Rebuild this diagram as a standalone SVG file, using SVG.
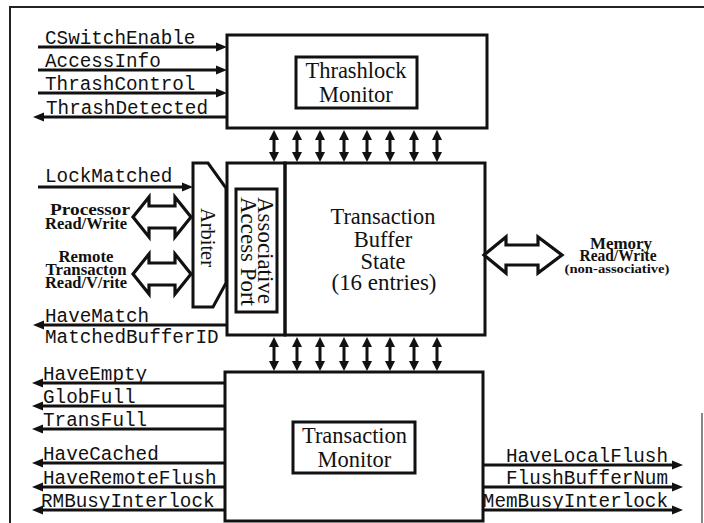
<svg xmlns="http://www.w3.org/2000/svg" width="704" height="523" viewBox="0 0 704 523">
<style>
.box{fill:none;stroke:#111;stroke-width:3}
.sig{stroke:#111;stroke-width:3;fill:none}
.r{marker-end:url(#ah)}
.l{marker-end:url(#ah)}
.bi{stroke:#111;stroke-width:3;fill:none;marker-start:url(#ah2);marker-end:url(#ah2)}
.hol{fill:#fff;stroke:#111;stroke-width:3.2;stroke-linejoin:miter}
.mono{font-family:"Liberation Mono","Courier New",monospace;font-size:19.3px;fill:#111}
.big{font-family:"Liberation Serif","Times New Roman",serif;font-size:22.5px;fill:#111;text-anchor:middle}
.lab{font-family:"Liberation Serif","Times New Roman",serif;font-weight:bold;font-size:16px;fill:#111;text-anchor:middle}
.rot{font-family:"Liberation Serif","Times New Roman",serif;font-size:23px;fill:#111}
</style>
<defs>
<marker id="ah" markerUnits="userSpaceOnUse" markerWidth="12" markerHeight="10" refX="6" refY="5" orient="auto">
<path d="M0,0.5 L11,5 L0,9.5 z" fill="#111"/>
</marker>
<marker id="ah2" markerUnits="userSpaceOnUse" markerWidth="11" markerHeight="11" refX="5" refY="5.5" orient="auto-start-reverse">
<path d="M0,0.5 L10,5.5 L0,10.5 z" fill="#111"/>
</marker>
<pattern id="dots" width="53" height="41" patternUnits="userSpaceOnUse">
<g stroke="#444" stroke-width="1.3" fill="none">
<path d="M5,6 l1,-2"/><path d="M22,14 l0,2"/><path d="M40,5 l1,1"/><path d="M12,28 l1,-1"/><path d="M33,31 l0,2"/><path d="M47,22 l-1,2"/><path d="M28,39 l1,-1"/><path d="M3,19 l1,1"/>
</g>
</pattern>
</defs>
<rect width="704" height="523" fill="#fff"/>
<g id="frame" fill="none" stroke="#222" stroke-width="2">
<path d="M10,523 V7 H704"/>
<path d="M702,413 V523" stroke="#888"/>
</g>

<g id="thrashlock">
<rect x="227" y="35" width="260" height="93" fill="url(#dots)" class="box"/>
<rect x="296" y="57" width="121" height="51" fill="#fff" class="box"/>
<text class="big" x="356" y="78">Thrashlock</text>
<text class="big" x="356" y="102">Monitor</text>
</g>

<g id="tbs">
<rect x="285" y="163" width="200" height="172" fill="#fff" class="box"/>
<text class="big" x="383" y="224" textLength="105" lengthAdjust="spacingAndGlyphs">Transaction</text>
<text class="big" x="383" y="247">Buffer</text>
<text class="big" x="383" y="269">State</text>
<text class="big" x="384" y="290" textLength="105" lengthAdjust="spacingAndGlyphs">(16 entries)</text>
</g>

<g id="aap">
<rect x="227" y="163" width="58" height="172" fill="#fff" class="box"/>
<rect x="236" y="189" width="41" height="123" fill="#fff" class="box"/>
<text class="rot" transform="translate(258,197) rotate(90)" textLength="107" lengthAdjust="spacingAndGlyphs">Associative</text>
<text class="rot" transform="translate(241,197) rotate(90)" textLength="109" lengthAdjust="spacingAndGlyphs">Access Port</text>
</g>

<g id="arbiter">
<path d="M193,163 H208 L226,188 V283 L213,307 H193 Z" fill="#fff" class="box"/>
<text class="rot" style="font-size:21px" transform="translate(201,208) rotate(90)" textLength="59" lengthAdjust="spacingAndGlyphs">Arbiter</text>
</g>

<g id="tm">
<rect x="225" y="372" width="258" height="149" fill="url(#dots)" class="box"/>
<rect x="293" y="422" width="122" height="51" fill="#fff" class="box"/>
<text class="big" x="354.5" y="443" textLength="105" lengthAdjust="spacingAndGlyphs">Transaction</text>
<text class="big" x="354.5" y="467">Monitor</text>
</g>

<g id="connectors">
<path class="sig r" d="M38,47 H222"/>
<path class="sig r" d="M38,70 H222"/>
<path class="sig r" d="M38,93 H222"/>
<path class="sig l" d="M227,117 H38"/>
<path class="sig r" d="M38,187 H188"/>
<path class="sig l" d="M227,325 H38"/>
<path class="sig l" d="M225,383 H37"/>
<path class="sig l" d="M225,406 H37"/>
<path class="sig l" d="M225,429 H37"/>
<path class="sig l" d="M225,463 H37"/>
<path class="sig l" d="M225,487 H37"/>
<path class="sig l" d="M225,510 H37"/>
<path class="sig r" d="M483,465 H678"/>
<path class="sig r" d="M483,487 H678"/>
<path class="sig r" d="M483,510 H678"/>
<path class="bi" d="M274,135 V157"/>
<path class="bi" d="M297,135 V157"/>
<path class="bi" d="M320,135 V157"/>
<path class="bi" d="M344,135 V157"/>
<path class="bi" d="M367,135 V157"/>
<path class="bi" d="M390,135 V157"/>
<path class="bi" d="M414,135 V157"/>
<path class="bi" d="M437,135 V157"/>
<path class="bi" d="M274,342 V366"/>
<path class="bi" d="M297,342 V366"/>
<path class="bi" d="M320,342 V366"/>
<path class="bi" d="M344,342 V366"/>
<path class="bi" d="M367,342 V366"/>
<path class="bi" d="M390,342 V366"/>
<path class="bi" d="M414,342 V366"/>
<path class="bi" d="M437,342 V366"/>
<path class="hol" d="M133,217 L149,197 V206 H175 V197 L191,217 L175,237 V228 H149 V237 Z"/>
<path class="hol" d="M133,274 L149,254 V263 H175 V254 L191,274 L175,294 V285 H149 V294 Z"/>
<path class="hol" d="M484,255 L506,237 V245 H538 V237 L562,255 L538,273 V265 H506 V273 Z"/>
</g>

<g id="labels">
<text class="mono" x="45" y="44">CSwitchEnable</text>
<text class="mono" x="45" y="67">AccessInfo</text>
<text class="mono" x="45" y="90">ThrashControl</text>
<text class="mono" x="46" y="114">ThrashDetected</text>
<text class="mono" x="45" y="182">LockMatched</text>
<text class="mono" x="45" y="322">HaveMatch</text>
<text class="mono" x="45" y="343">MatchedBufferID</text>
<text class="mono" x="43" y="380">HaveEmpty</text>
<text class="mono" x="43" y="403">GlobFull</text>
<text class="mono" x="43" y="426">TransFull</text>
<text class="mono" x="43" y="460">HaveCached</text>
<text class="mono" x="43" y="484">HaveRemoteFlush</text>
<text class="mono" x="41" y="507">RMBusyInterlock</text>
<text class="mono" x="668" y="462" text-anchor="end">HaveLocalFlush</text>
<text class="mono" x="668" y="484" text-anchor="end">FlushBufferNum</text>
<text class="mono" x="668" y="507" text-anchor="end">MemBusyInterlock</text>
<text class="lab" x="90" y="215" textLength="80" lengthAdjust="spacingAndGlyphs">Processor</text>
<text class="lab" x="86" y="229" textLength="82" lengthAdjust="spacingAndGlyphs">Read/Write</text>
<text class="lab" x="86" y="262" textLength="55" lengthAdjust="spacingAndGlyphs">Remote</text>
<text class="lab" x="86" y="275" textLength="81" lengthAdjust="spacingAndGlyphs">Transacton</text>
<text class="lab" x="86" y="288" textLength="82" lengthAdjust="spacingAndGlyphs">Read/V/rite</text>
<text class="lab" x="621" y="249" textLength="62" lengthAdjust="spacingAndGlyphs">Memory</text>
<text class="lab" x="618" y="261" textLength="77" lengthAdjust="spacingAndGlyphs">Read/Write</text>
<text class="lab" x="617" y="273" style="font-size:13px" textLength="105" lengthAdjust="spacingAndGlyphs">(non-associative)</text>
</g>
</svg>
